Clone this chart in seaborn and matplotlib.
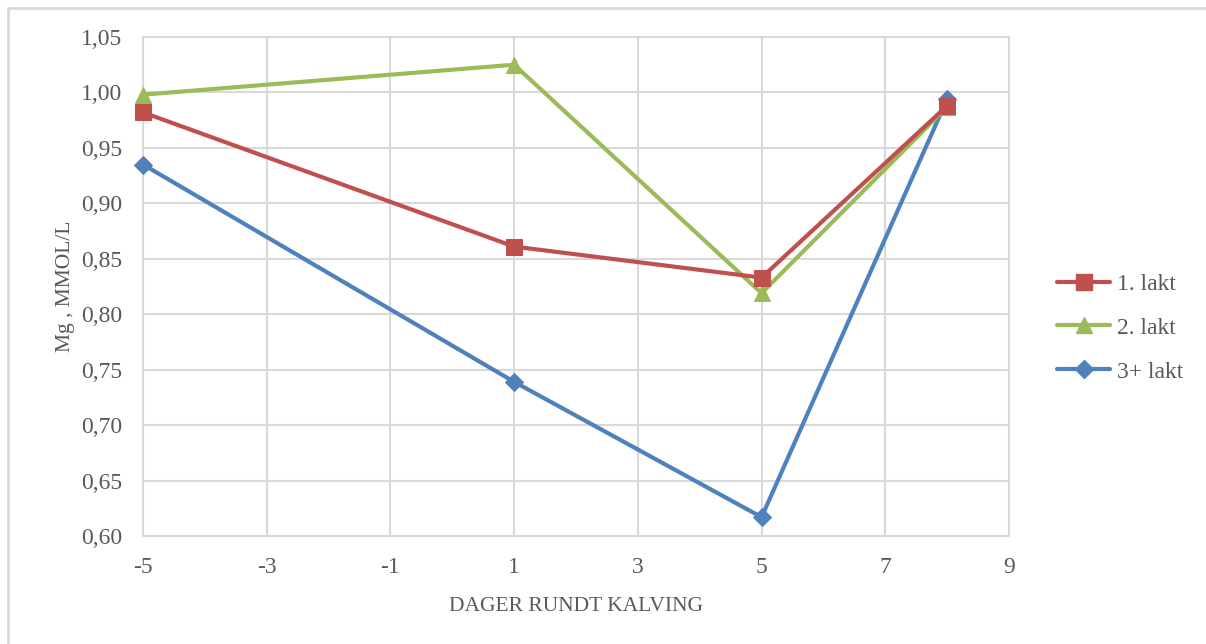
import matplotlib
matplotlib.use("Agg")
import matplotlib.pyplot as plt
from matplotlib.lines import Line2D
import seaborn as sns
import pandas as pd

# Days around calving and serum Mg per lactation group
days = [-5, 1, 5, 8]
lakt1 = [0.982, 0.861, 0.833, 0.988]
lakt2 = [0.998, 1.025, 0.819, 0.987]
lakt3 = [0.935, 0.739, 0.617, 0.994]
series_names = ["1. lakt", "2. lakt", "3+ lakt"]
x_ticks = [-5, -3, -1, 1, 3, 5, 7, 9]
y_ticks = [0.60, 0.65, 0.70, 0.75, 0.80, 0.85, 0.90, 0.95, 1.00, 1.05]

colors = {"1. lakt": "#C0504D", "2. lakt": "#9BBB59", "3+ lakt": "#4F81BD"}
markers = {"1. lakt": "s", "2. lakt": "^", "3+ lakt": "D"}
msizes = {"1. lakt": 11, "2. lakt": 11, "3+ lakt": 9}

rows = []
for name, vals in zip(series_names, [lakt1, lakt2, lakt3]):
    for d, v in zip(days, vals):
        rows.append({"dag": d, "mg": v, "gruppe": name})
df = pd.DataFrame(rows)

sns.set_style("white")
plt.rcParams["font.family"] = ["Liberation Serif", "DejaVu Serif"]
text_color = "#595959"
grid_color = "#D9D9D9"

fig = plt.figure(figsize=(12.06, 6.44), dpi=100)
ax = fig.add_axes([143 / 1206, 1 - 536 / 644, (1009 - 143) / 1206, (536 - 37) / 644])

# draw 3+ first so 1. and 2. lakt lie on top
for name in ["3+ lakt", "2. lakt", "1. lakt"]:
    sub = df[df["gruppe"] == name]
    sns.lineplot(data=sub, x="dag", y="mg", ax=ax, color=colors[name],
                 marker=markers[name], markersize=msizes[name],
                 markeredgecolor=colors[name], linewidth=3, legend=False,
                 zorder=3, clip_on=False)

ax.set_xlim(-5, 9)
ax.set_ylim(0.60, 1.05)
ax.set_xticks(x_ticks)
ax.set_yticks(y_ticks)
ax.set_xticklabels([str(t) for t in x_ticks])
ax.set_yticklabels([f"{t:.2f}".replace(".", ",") for t in y_ticks])
ax.grid(True, color=grid_color, linewidth=1.5, zorder=0)
for sp in ax.spines.values():
    sp.set_color(grid_color)
    sp.set_linewidth(1.5)
ax.tick_params(axis="both", length=0, labelsize=17, labelcolor=text_color)
ax.tick_params(axis="x", pad=15)
ax.tick_params(axis="y", pad=15)
ax.set_xlabel("DAGER RUNDT KALVING", fontsize=15.5, color=text_color, labelpad=14)
ax.set_ylabel("Mg , MMOL/L", fontsize=15.5, color=text_color, labelpad=4)

handles = [Line2D([0], [0], color=colors[n], marker=markers[n],
                  markersize=msizes[n], linewidth=3) for n in series_names]
leg = fig.legend(handles, series_names, loc="center left",
                 bbox_to_anchor=(1057 / 1206, 1 - 328 / 644), frameon=False,
                 fontsize=17, labelcolor=text_color, handlelength=2.25,
                 labelspacing=0.95, handletextpad=0.3, borderpad=0,
                 borderaxespad=0)

# outer chart frame (top and left edges)
fig.add_artist(Line2D([8 / 1206, 1.0], [1 - 7.5 / 644, 1 - 7.5 / 644],
                      color=grid_color, linewidth=2, transform=fig.transFigure))
fig.add_artist(Line2D([8 / 1206, 8 / 1206], [0, 1 - 7.5 / 644],
                      color=grid_color, linewidth=2, transform=fig.transFigure))

fig.savefig("out.png", dpi=100)
